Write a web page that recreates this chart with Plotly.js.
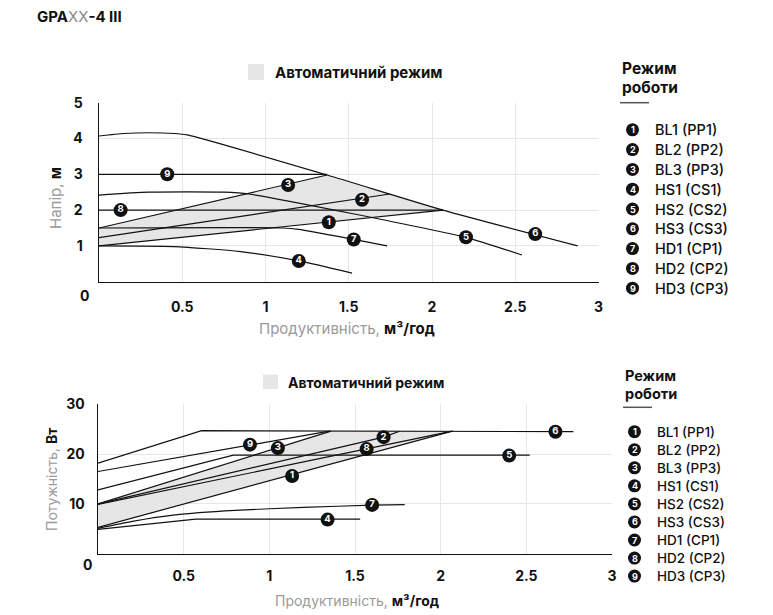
<!DOCTYPE html>
<html>
<head>
<meta charset="utf-8">
<script src="https://cdn.plot.ly/plotly-3.0.1.min.js"></script>
<style>html,body{margin:0;padding:0;background:#fff;}#chart{width:773px;height:615px;}</style>
</head>
<body>
<div id="chart"></div>
<script>
// ---------- DATA ----------
const flowTicks = [0.5, 1, 1.5, 2, 2.5, 3];
const headTicks = [1, 2, 3, 4, 5];
const powerTicks = [10, 20, 30];
const cornerLabel = '0';

const modeNumbers = ['1','2','3','4','5','6','7','8','9'];
const modeCodes = ['BL1 (PP1)','BL2 (PP2)','BL3 (PP3)','HS1 (CS1)','HS2 (CS2)','HS3 (CS3)','HD1 (CP1)','HD2 (CP2)','HD3 (CP3)'];

// Head chart (Q m3/h, H m)
const headAutoQ = [0, 1.37, 2.066, 0];
const headAutoH = [1.5, 2.98, 2.0, 1.0];
const headQ1 = [0, 2.066],               headH1 = [1.0, 2.0];
const headQ2 = [0, 1.746],               headH2 = [1.23, 2.45];
const headQ3 = [0, 1.37],                headH3 = [1.5, 2.98];
const headQ4 = [0, 0.45, 0.85, 1.2, 1.52], headH4 = [1.0, 0.98, 0.84, 0.58, 0.24];
const headQ5 = [0, 0.3, 0.75, 0.9, 2.2, 2.54], headH5 = [2.42, 2.5, 2.5, 2.45, 1.24, 0.745];
const headQ6 = [0, 0.15, 0.3, 0.45, 0.53, 1.37, 2.066, 2.875], headH6 = [4.07, 4.14, 4.16, 4.14, 4.1, 2.98, 2.0, 1.0];
const headQ7 = [0, 1.1, 1.2, 1.53, 1.73], headH7 = [1.5, 1.5, 1.46, 1.18, 1.0];
const headQ8 = [0, 2.066],               headH8 = [2.0, 2.0];
const headQ9 = [0, 1.37],                headH9 = [3.0, 3.0];
const headMarkQ = [1.38, 1.58, 1.136, 1.2, 2.204, 2.62, 1.53, 0.13, 0.41];
const headMarkH = [1.66, 2.29, 2.70, 0.58, 1.24, 1.33, 1.18, 2.0, 3.0];

// Power chart (Q m3/h, P W)
const powAutoQ = [0, 1.36, 2.068, 0];
const powAutoP = [10.0, 24.6, 24.6, 5.3];
const powQ1 = [0, 2.068],                powP1 = [5.3, 24.6];
const powQ2 = [0, 1.667, 1.76],          powP2 = [10.0, 23.4, 24.6];
const powQ3 = [0, 1.36],                 powP3 = [10.0, 24.6];
const powQ4 = [0, 0.57, 1.53],           powP4 = [4.9, 6.95, 6.95];
const powQ5 = [0, 0.79, 2.52],           powP5 = [12.8, 19.8, 19.8];
const powQ6 = [0, 0.605, 2.775],         powP6 = [18.2, 24.7, 24.5];
const powQ7 = [0, 0.2, 0.45, 0.8, 1.2, 1.6, 1.79], powP7 = [5.1, 6.5, 7.8, 8.7, 9.3, 9.75, 9.85];
const powQ8 = [0, 1.568, 2.068],         powP8 = [9.9, 21.0, 24.6];
const powQ9 = [0, 0.887, 1.35],          powP9 = [16.5, 21.9, 24.6];
const powMarkQ = [1.133, 1.667, 1.05, 1.34, 2.40, 2.67, 1.60, 1.568, 0.887];
const powMarkP = [15.6, 23.4, 21.2, 6.85, 19.7, 24.5, 9.8, 21.0, 21.9];

// ---------- BUILD ----------
const W = 773, H = 615;
const px = x => x / W, py = y => 1 - y / H;
const FONT = 'Inter, "Noto Sans", sans-serif';
const INK = '#111111';
const GREY = '#9a9a9a';
const AUTO_FILL = '#e6e6e6';

function curve(q, v, xa, ya, smooth) {
  return {x: q, y: v, xaxis: xa, yaxis: ya, mode: 'lines', hoverinfo: 'skip',
    line: {color: INK, width: 1.2, shape: smooth ? 'spline' : 'linear', smoothing: 0.6}};
}
function area(q, v, xa, ya) {
  return {x: q, y: v, xaxis: xa, yaxis: ya, mode: 'lines', fill: 'toself',
    fillcolor: AUTO_FILL, line: {width: 0, color: AUTO_FILL}, hoverinfo: 'skip'};
}
function marks(q, v, xa, ya) {
  return {x: q, y: v, xaxis: xa, yaxis: ya, mode: 'markers+text', text: modeNumbers,
    textposition: 'middle center', hoverinfo: 'skip', cliponaxis: false,
    marker: {size: 14, color: INK, line: {width: 0}},
    textfont: {family: FONT, size: 9.5, color: '#ffffff', weight: 700}};
}

const traces = [
  area(headAutoQ, headAutoH, 'x', 'y'),
  curve(headQ1, headH1, 'x', 'y'), curve(headQ2, headH2, 'x', 'y'), curve(headQ3, headH3, 'x', 'y'),
  curve(headQ4, headH4, 'x', 'y', true), curve(headQ5, headH5, 'x', 'y', true), curve(headQ6, headH6, 'x', 'y', true),
  curve(headQ7, headH7, 'x', 'y', true), curve(headQ8, headH8, 'x', 'y'), curve(headQ9, headH9, 'x', 'y'),
  marks(headMarkQ, headMarkH, 'x', 'y'),
  area(powAutoQ, powAutoP, 'x2', 'y2'),
  curve(powQ1, powP1, 'x2', 'y2'), curve(powQ2, powP2, 'x2', 'y2'), curve(powQ3, powP3, 'x2', 'y2'),
  curve(powQ4, powP4, 'x2', 'y2'), curve(powQ5, powP5, 'x2', 'y2'), curve(powQ6, powP6, 'x2', 'y2'),
  curve(powQ7, powP7, 'x2', 'y2', true), curve(powQ8, powP8, 'x2', 'y2'), curve(powQ9, powP9, 'x2', 'y2'),
  marks(powMarkQ, powMarkP, 'x2', 'y2')
];

const tickFont = {family: FONT, size: 14, color: INK, weight: 700};
function xAxis(domain, anchor, standoff) {
  return {domain: domain, anchor: anchor, range: [0, 3], tickvals: flowTicks,
    ticktext: flowTicks.map(String), showgrid: true, gridcolor: '#e6e6e6', gridwidth: 1,
    zeroline: false, showline: true, linecolor: INK, linewidth: 1.5, ticks: '',
    ticklabelstandoff: standoff, tickfont: tickFont, fixedrange: true};
}
function yAxis(domain, anchor, range, ticks, standoff) {
  return {domain: domain, anchor: anchor, range: range, tickvals: ticks,
    ticktext: ticks.map(String), showgrid: true, gridcolor: '#e6e6e6', gridwidth: 1,
    zeroline: false, showline: true, linecolor: INK, linewidth: 1.5, ticks: '',
    ticklabelstandoff: standoff, tickfont: tickFont, fixedrange: true};
}

const annotations = [];
const shapes = [];
function txt(x, y, text, size, opts) {
  annotations.push(Object.assign({xref: 'paper', yref: 'paper', x: px(x), y: py(y), text: text,
    showarrow: false, xanchor: 'left', yanchor: 'middle',
    font: {family: FONT, size: size, color: INK}}, opts || {}));
}

// header
txt(35, 17, '<b>GPA</b><span style="color:#8a8a8a">XX</span><b>-4 III</b>', 15);

// corner zero labels
txt(84, 295, cornerLabel, 14, {xanchor: 'center', font: {family: FONT, size: 14, color: INK, weight: 700}});
txt(87, 564, cornerLabel, 14, {xanchor: 'center', font: {family: FONT, size: 14, color: INK, weight: 700}});

// axis titles
const flowTitle = '<span style="color:' + GREY + '">Продуктивність, </span><b>м³/год</b>';
txt(347, 328, flowTitle, 15, {xanchor: 'center'});
txt(357, 600, flowTitle, 14, {xanchor: 'center'});
txt(55, 198, '<span style="color:' + GREY + '">Напір, </span><b>м</b>', 15, {xanchor: 'center', textangle: -90});
txt(52, 479, '<span style="color:' + GREY + '">Потужність, </span><b>Вт</b>', 14, {xanchor: 'center', textangle: -90});

// "Автоматичний режим" keys
shapes.push({type: 'rect', xref: 'paper', yref: 'paper', x0: px(248), x1: px(264), y0: py(64), y1: py(80),
  fillcolor: AUTO_FILL, line: {width: 0}});
txt(273, 72.5, '<b>Автоматичний режим</b>', 15);
shapes.push({type: 'rect', xref: 'paper', yref: 'paper', x0: px(263), x1: px(278), y0: py(374.5), y1: py(389),
  fillcolor: AUTO_FILL, line: {width: 0}});
txt(286, 382, '<b>Автоматичний режим</b>', 14);

// right-hand mode lists
function modeList(x, yTitle, yLine, yFirst, step, size, circleX) {
  txt(x, yTitle, '<b>Режим</b>', size + 1.5);
  txt(x, yTitle + (yLine - yTitle) * 0.56, '<b>роботи</b>', size + 1.5);
  shapes.push({type: 'line', xref: 'paper', yref: 'paper', x0: px(x), x1: px(x + 29), y0: py(yLine), y1: py(yLine),
    line: {color: '#555555', width: 1.5}});
  modeCodes.forEach((code, i) => {
    const y = yFirst + i * step;
    shapes.push({type: 'circle', xref: 'paper', yref: 'paper', xsizemode: 'pixel', ysizemode: 'pixel',
      xanchor: px(circleX), yanchor: py(y), x0: -6.5, x1: 6.5, y0: -6.5, y1: 6.5,
      fillcolor: INK, line: {width: 0}});
    annotations.push({xref: 'paper', yref: 'paper', x: px(circleX), y: py(y), text: '<b>' + modeNumbers[i] + '</b>',
      showarrow: false, xanchor: 'center', yanchor: 'middle',
      font: {family: FONT, size: 9, color: '#ffffff'}});
    txt(circleX + 20.5, y, code, size + 0.5, {font: {family: FONT, size: size + 0.5, color: INK, weight: 500}});
  });
}
modeList(620, 68.3, 102.7, 129.8, 19.8, 14, 632.5);
modeList(623, 375.7, 407.3, 431.7, 18.05, 13, 634.5);

const layout = {
  width: W, height: H, margin: {l: 0, r: 0, t: 0, b: 0},
  paper_bgcolor: '#ffffff', plot_bgcolor: '#ffffff', showlegend: false,
  font: {family: FONT, color: INK},
  xaxis: xAxis([px(99), px(598.5)], 'y', 12),
  yaxis: yAxis([py(281.7), py(102.7)], 'x', [0, 5], headTicks, 12),
  xaxis2: xAxis([px(98), px(612)], 'y2', 9),
  yaxis2: yAxis([py(553.7), py(404.3)], 'x2', [0, 30], powerTicks, 9),
  annotations: annotations,
  shapes: shapes
};

Plotly.newPlot('chart', traces, layout, {staticPlot: true, displayModeBar: false});
</script>
</body>
</html>
